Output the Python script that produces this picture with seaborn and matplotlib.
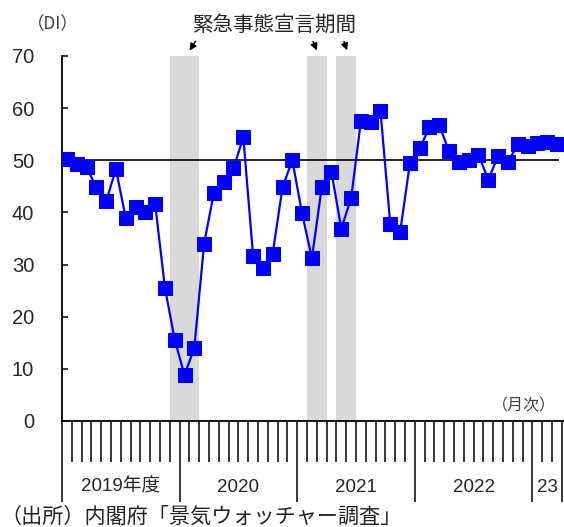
import seaborn as sns
import matplotlib.pyplot as plt
import matplotlib.transforms as mtransforms
import numpy as np
import pandas as pd

# monthly DI, Apr 2019 - Jun 2023
di_values = [50.2, 49.2, 48.7, 44.8, 42.1, 48.3, 39.0, 41.0, 40.0, 41.7, 25.6, 15.6,
             8.8, 14.0, 34.0, 43.8, 45.8, 48.5, 54.4, 31.7, 29.4, 32.1, 44.8, 50.0,
             39.8, 31.2, 44.8, 47.7, 36.9, 42.7, 57.5, 57.3, 59.4, 37.7, 36.2, 49.4,
             52.3, 56.3, 56.7, 51.7, 49.6, 50.0, 51.0, 46.3, 50.8, 49.6, 53.1, 52.7,
             53.3, 53.5, 53.1]
fy_labels = ['2019年度', '2020', '2021', '2022', '23']
fy_starts = [0, 12, 24, 36, 48, 51]
emergency_spans = [(11, 14), (25, 27), (28, 30)]

df = pd.DataFrame({'month': np.arange(len(di_values)) + 0.5, 'di': di_values})

sns.set_style('white')
plt.rcParams['font.family'] = ['Liberation Sans', 'Noto Sans CJK JP']

W, H = 564, 527
fig = plt.figure(figsize=(W / 100, H / 100), dpi=100)
ax = fig.add_axes([62 / W, 1 - 421 / H, (W - 62) / W, (421 - 56) / H])

for a, b in emergency_spans:
    ax.axvspan(a, b, color='#d9d9d9', lw=0, zorder=0)

ax.hlines(50, 0, 50.7, color='black', lw=1.2, zorder=1)

sns.lineplot(data=df, x='month', y='di', ax=ax, color='#0000ff', lw=1.6,
             marker='s', markersize=10, markeredgecolor='#0000ff', zorder=3)

ax.set_xlim(0, 502 / 9.8)
ax.set_ylim(0, 70)
ax.set_yticks(range(0, 71, 10))
ax.set_xticks(fy_starts)
ax.set_xticks(range(0, 52), minor=True)
ax.set_xticklabels([])
ax.set_xlabel('')
ax.set_ylabel('')

ax.tick_params(axis='y', direction='in', length=4.5, width=1.1, color='black',
               labelsize=14.5, pad=20, left=True)
ax.tick_params(axis='x', which='major', direction='out', length=58, width=1.1,
               color='black', bottom=True)
ax.tick_params(axis='x', which='minor', direction='out', length=29.5, width=1.1,
               color='black', bottom=True)

sns.despine(ax=ax)
for s in ['left', 'bottom']:
    ax.spines[s].set_color('black')
    ax.spines[s].set_linewidth(1.3)

trans = mtransforms.blended_transform_factory(ax.transData, ax.transAxes)
for i, lab in enumerate(fy_labels):
    mid = (fy_starts[i] + fy_starts[i + 1]) / 2
    ax.text(mid, -0.181, lab, transform=trans, ha='center', va='center',
            fontsize=13.5)

cjk = ['Noto Sans CJK JP', 'DejaVu Sans']
fig.text(275 / W, 1 - 25 / H, '緊急事態宣言期間', ha='center', va='center',
         fontsize=14.8, family=cjk)
fig.text(27 / W, 1 - 24 / H, '（DI）', ha='left', va='center', fontsize=12.5,
         family=cjk, color='#404040')
fig.text(556 / W, 1 - 406 / H, '（月次）', ha='right', va='center', fontsize=11.5,
         family=cjk, color='#404040')
fig.text(0, 1 - 517 / H, '（出所）内閣府「景気ウォッチャー調査」', ha='left',
         va='center', fontsize=15.2, family=cjk, color='#222222')

arrows = [((197, 39), (188, 53)), ((312, 39), (318, 53)), ((343, 39), (348, 53))]
for (tx, ty), (hx, hy) in arrows:
    fig.add_artist(plt.matplotlib.patches.FancyArrowPatch(
        (tx, H - ty), (hx, H - hy), transform=None, arrowstyle='-|>',
        mutation_scale=10, color='black', lw=1.1))

fig.savefig('out.png', dpi=100)
